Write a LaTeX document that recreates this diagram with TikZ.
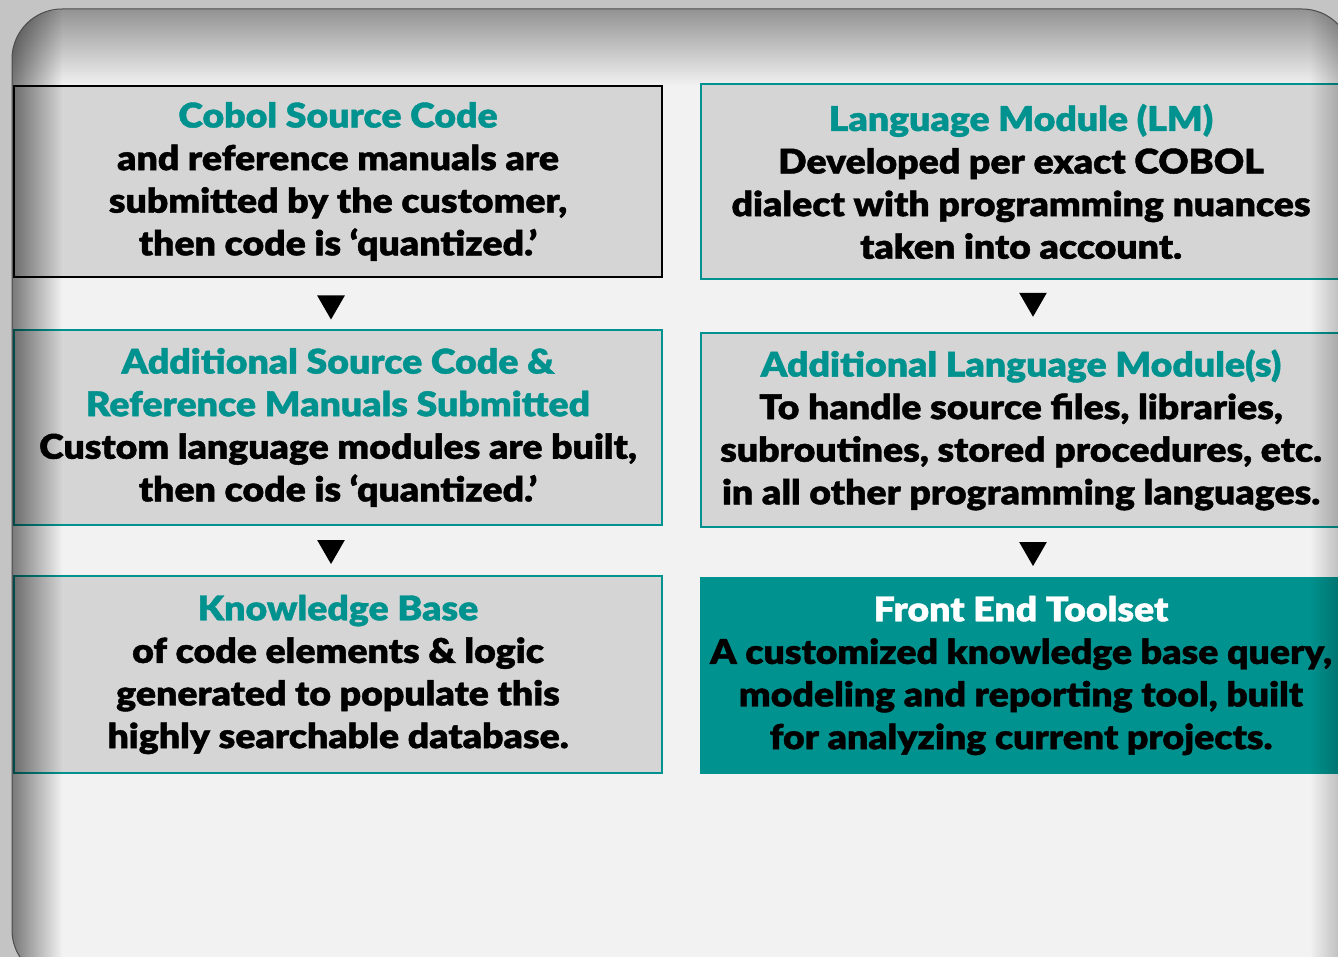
\documentclass[tikz,border=0pt]{standalone}
\usepackage{fontspec}
\setmainfont{Lato}[BoldFont={Lato Black}, BoldFeatures={FakeStretch=1.1, FakeBold=1.2}]
\usetikzlibrary{shapes.geometric,fadings}
\definecolor{tealc}{RGB}{0,146,142}
\definecolor{boxgray}{RGB}{213,213,213}
\definecolor{panelc}{RGB}{242,242,242}
\definecolor{framec}{RGB}{196,196,196}
\tikzset{
  box/.style={draw=tealc, line width=1.6pt, fill=boxgray, inner sep=0pt,
    align=center, font=\bfseries\fontsize{34}{42.6}\selectfont, text=black},
  tri/.style={regular polygon, regular polygon sides=3, shape border rotate=180,
    fill=black, minimum size=32pt, inner sep=0pt, draw=none}
}
\newcommand{\hd}[1]{{\color{tealc}#1}}
\begin{document}
\begin{tikzpicture}[x=1pt,y=-1pt]
\useasboundingbox (0,0) rectangle (1338,957);
\fill[framec] (0,0) rectangle (1338,957);
\begin{scope}
  \clip[rounded corners=50pt] (12,9) rectangle (1352,980);
  \fill[panelc] (0,0) rectangle (1338,957);
  \shade[top color=gray!85, middle color=white, bottom color=panelc] (0,9) rectangle (1338,86);
  % boxes
  \node[box, draw=black, minimum width=648pt, minimum height=191pt] (b1) at (338,181.5)
    {\hd{Cobol Source Code}\\and reference manuals are\\submitted by the customer,\\then code is ‘quantized.’};
  \node[box, minimum width=648pt, minimum height=195pt] (b2) at (338,427.5)
    {\hd{Additional Source Code \&}\\\hd{Reference Manuals Submitted}\\Custom language modules are built,\\then code is ‘quantized.’};
  \node[box, minimum width=648pt, minimum height=197pt] (b3) at (338,674.5)
    {\hd{Knowledge Base}\\of code elements \& logic\\generated to populate this\\highly searchable database.};
  \node[box, minimum width=640pt, minimum height=195pt] (b4) at (1021,181.5)
    {\hd{Language Module (LM)}\\Developed per exact COBOL\\dialect with programming nuances\\taken into account.};
  \node[box, minimum width=640pt, minimum height=194pt] (b5) at (1021,430)
    {\hd{Additional Language Module(s)}\\To handle source files, libraries,\\subroutines, stored procedures, etc.\\in all other programming languages.};
  \node[box, fill=tealc, minimum width=640pt, minimum height=195pt] (b6) at (1021,675.5)
    {{\color{white}Front End Toolset}\\A customized knowledge base query,\\modeling and reporting tool, built\\for analyzing current projects.};
  % shadows on top
  \fill[black, path fading=east, fill opacity=0.5] (12,9) rectangle (62,980);
  \fill[black, path fading=west, fill opacity=0.2] (1310,9) rectangle (1338,980);
\end{scope}
\draw[rounded corners=50pt, line width=1pt, black!70] (12,9) rectangle (1352,980);
% down markers
\path ([xshift=-7pt]b1.south) -- ([xshift=-7pt]b2.north) node[tri, pos=0.5] (t1) {};
\path ([xshift=-7pt]b2.south) -- ([xshift=-7pt]b3.north) node[tri, pos=0.45] (t2) {};
\path ([xshift=12pt]b4.south) -- ([xshift=12pt]b5.north) node[tri, pos=0.4] (t3) {};
\path ([xshift=12pt]b5.south) -- ([xshift=12pt]b6.north) node[tri, pos=0.45] (t4) {};
\end{tikzpicture}
\end{document}
